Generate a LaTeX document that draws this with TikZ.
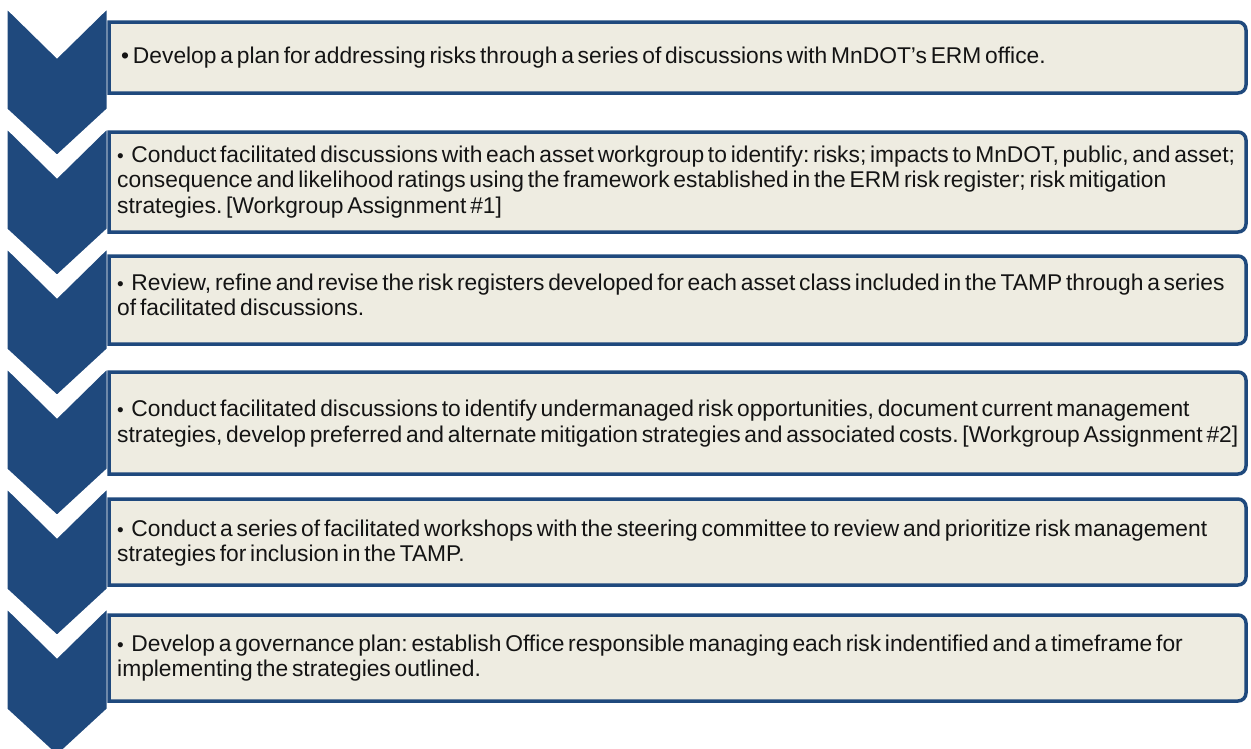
\documentclass[tikz,border=0pt]{standalone}
\usepackage{fontspec}
\setmainfont{Liberation Sans}[WordSpace={0.6}]
\frenchspacing
\definecolor{chevblue}{RGB}{31,73,125}
\definecolor{boxfill}{RGB}{238,236,225}
\definecolor{inktext}{RGB}{20,20,20}
\tikzset{
  chevron/.style={fill=chevblue, draw=white, line width=3pt, line join=miter},
  stepframe/.style={fill=boxfill, draw=chevblue, line width=3.5pt},
  steptext/.style={anchor=west, inner sep=0pt, align=left, text=inktext,
    font=\fontsize{22.8}{25.5}\selectfont}
}
% one text box: top, bottom (square on the left, rounded on the right)
\newcommand\stepframebox[2]{%
  \filldraw[stepframe] (109,#1) -- (1238,#1) arc[start angle=90,end angle=0,radius=8pt]
    -- (1246,#2-8) arc[start angle=0,end angle=-90,radius=8pt] -- (109,#2) -- cycle;}
% smaller bullet used in the lower boxes
\newcommand\smallbul{{\fontsize{19}{19}\selectfont\textbullet}\ \ }
\begin{document}
\begin{tikzpicture}[x=1pt,y=-1pt]
\useasboundingbox (0,0) rectangle (1251,748);
% chevron column
\foreach \k in {0,...,5} {
  \pgfmathsetmacro\t{6.5+120*\k}
  \filldraw[chevron] (6,\t) -- (57,\t+50) -- (108,\t) -- (108,\t+103)
    -- (57,\t+150) -- (6,\t+103) -- cycle;
}
% text boxes
\stepframebox{22}{93}
\stepframebox{132}{232}
\stepframebox{256}{344}
\stepframebox{372}{474}
\stepframebox{499}{585}
\stepframebox{615}{701}
% texts
\node[steptext] (t1) at (121,57.5) {\textbullet\ Develop a plan for addressing risks through a series of discussions with MnDOT's ERM office.};
\node[steptext] (t2) at (117,182) {\smallbul Conduct facilitated discussions with each asset workgroup to identify: risks; impacts to MnDOT, public, and asset;\\
consequence and likelihood ratings using the framework established in the ERM risk register; risk mitigation\\
strategies. [Workgroup Assignment \#1]};
\node[steptext] (t3) at (117,295) {\smallbul Review, refine and revise the risk registers developed for each asset class included in the TAMP through a series\\
of facilitated discussions.};
\node[steptext] (t4) at (117,423.5) {\smallbul Conduct facilitated discussions to identify undermanaged risk opportunities, document current management\\
strategies, develop preferred and alternate mitigation strategies and associated costs. [Workgroup Assignment \#2]};
\node[steptext] (t5) at (117,543) {\smallbul Conduct a series of facilitated workshops with the steering committee to review and prioritize risk management\\
strategies for inclusion in the TAMP.};
\node[steptext] (t6) at (117,658) {\smallbul Develop a governance plan: establish Office responsible managing each risk indentified and a timeframe for\\
implementing the strategies outlined.};
\end{tikzpicture}
\end{document}
